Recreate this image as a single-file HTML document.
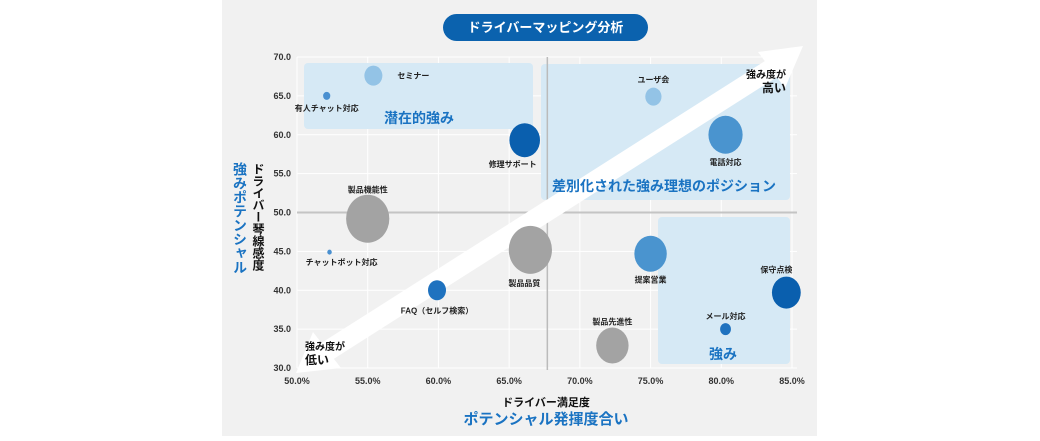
<!DOCTYPE html>
<html><head><meta charset="utf-8"><style>
body{margin:0;background:#fff;width:1040px;height:436px;overflow:hidden;font-family:"Liberation Sans","Noto Sans CJK JP",sans-serif}
svg text{font-family:"Liberation Sans","Noto Sans CJK JP",sans-serif}
</style></head><body>
<svg id="chart" width="1040" height="436" viewBox="0 0 1040 436" xmlns="http://www.w3.org/2000/svg">
<rect x="222" y="0" width="595" height="436" fill="#f1f1f1"/>
<g>
<rect x="443" y="14" width="205" height="27" rx="13.5" fill="#0b62ae"/>
<text x="545.5" y="32" text-anchor="middle" font-size="13" font-weight="bold" fill="#fff">ドライバーマッピング分析</text>
</g>
<g id="grid"></g>
<g>
<rect x="304" y="63" width="229" height="66" rx="4" fill="#d6e9f5"/>
<rect x="541" y="64" width="249" height="136" rx="4" fill="#d6e9f5"/>
<rect x="658" y="217" width="132" height="147" rx="4" fill="#d6e9f5"/>
</g>
<g id="dividers"></g>
<g>
<line x1="318" y1="357" x2="782" y2="62" stroke="#fff" stroke-width="20"/>
<polygon points="803,46 758,52 785,88" fill="#fff"/>
<polygon points="296,373 341,368 313,332" fill="#fff"/>
</g>
<g font-weight="bold" fill="#1a73c2" font-size="14">
<text x="419" y="123" text-anchor="middle">潜在的強み</text>
<text x="664" y="191" text-anchor="middle">差別化された強み理想のポジション</text>
<text x="723" y="359" text-anchor="middle">強み</text>
</g>
<g font-weight="bold" fill="#111">
<text x="786" y="78" text-anchor="end" font-size="10">強み度が</text>
<text x="786" y="92" text-anchor="end" font-size="12">高い</text>
<text x="305" y="350" font-size="10">強み度が</text>
<text x="305" y="364" font-size="12">低い</text>
</g>
<g id="axes"></g>
<g id="bubbles"></g>
<text x="546" y="406" text-anchor="middle" font-size="11" font-weight="bold" fill="#111">ドライバー満足度</text>
<text x="546" y="424" text-anchor="middle" font-size="15" font-weight="bold" fill="#1a73c2">ポテンシャル発揮度合い</text>
<text x="258" y="163" font-size="12" font-weight="bold" fill="#111" style="writing-mode:vertical-rl">ドライバー琴線感度</text>
<text x="240" y="162" font-size="14" font-weight="bold" fill="#1a73c2" style="writing-mode:vertical-rl">強みポテンシャル</text>
</svg>
<script>
const names=["セミナー","有人チャット対応","修理サポート","ユーザ会","電話対応","製品機能性","チャットボット対応","製品品質","提案営業","FAQ（セルフ検索）","保守点検","メール対応","製品先進性"];
const xVals=[55.4,52.1,66.1,75.2,80.3,55.0,52.3,66.5,75.0,59.9,84.6,80.3,72.3];
const yVals=[67.6,65.0,59.3,64.9,60.0,49.2,44.9,45.2,44.7,40.0,39.7,35.0,32.9];
const sizes=[10,4,17,9,19,24,2.5,24,18,10,16,6,18];
const colors=["#93c3e6","#4a90d0","#0a5fae","#93c3e6","#4a94cf","#a3a3a3","#4a90d0","#a3a3a3","#4a94cf","#1f72bf","#0a5fae","#1f72bf","#a3a3a3"];
const xTicks=[50,55,60,65,70,75,80,85];
const yTicks=[30,35,40,45,50,55,60,65,70];
const xDivider=67.7, yDivider=50;
const NS="http://www.w3.org/2000/svg";
function X(v){return 297+(v-50)*(792-297)/35;}
function Y(v){return 368-(v-30)*(368-57)/40;}
function mk(tag,attrs,parent){const e=document.createElementNS(NS,tag);for(const k in attrs)e.setAttribute(k,attrs[k]);parent.appendChild(e);return e;}
const grid=document.getElementById('grid'),axes=document.getElementById('axes'),bub=document.getElementById('bubbles'),div=document.getElementById('dividers');
xTicks.forEach(t=>{
 const l=mk('line',{x1:X(t),x2:X(t),y1:57,y2:368,stroke:'#fff','stroke-width':1},grid);
 
 
 const tx=mk('text',{x:X(t),y:384,'text-anchor':'middle','font-size':9,'font-weight':'bold',fill:'#333'},axes);
 tx.textContent=t.toFixed(1)+'%';
 
 
});
yTicks.forEach(t=>{
 const l=mk('line',{x1:297,x2:797,y1:Y(t),y2:Y(t),stroke:'#fff','stroke-width':1},grid);
 
 
 const tx=mk('text',{x:291,y:Y(t)+3,'text-anchor':'end','font-size':9,'font-weight':'bold',fill:'#333'},axes);
 tx.textContent=t.toFixed(1);
 
 
});
const dv=mk('line',{x1:X(xDivider),x2:X(xDivider),y1:57,y2:370,stroke:'#bbb','stroke-width':1.5},div);


const dh=mk('line',{x1:297,x2:797,y1:Y(yDivider),y2:Y(yDivider),stroke:'#c4c4c4','stroke-width':2},div);


const labelOff=[[24,0,'start'],[0,12,'middle'],[-12,24,'middle'],[0,-17,'middle'],[0,27,'middle'],[0,-29,'middle'],[12,10,'middle'],[-6,33,'middle'],[0,26,'middle'],[0,20,'middle'],[-10,-23,'middle'],[0,-13,'middle'],[0,-24,'middle']];
names.forEach((n,i)=>{
 const cx=X(xVals[i]),cy=Y(yVals[i]),r=sizes[i];
 const c=mk('ellipse',{cx:cx,cy:cy,rx:r*0.9,ry:r,fill:colors[i]},bub);
 
 
 const o=labelOff[i];
 const tx=mk('text',{x:cx+o[0],y:cy+o[1]+3,'text-anchor':o[2],'font-size':8,'font-weight':'bold',fill:'#222'},bub);
 tx.textContent=n;
 
 
});
</script>
</body></html>
